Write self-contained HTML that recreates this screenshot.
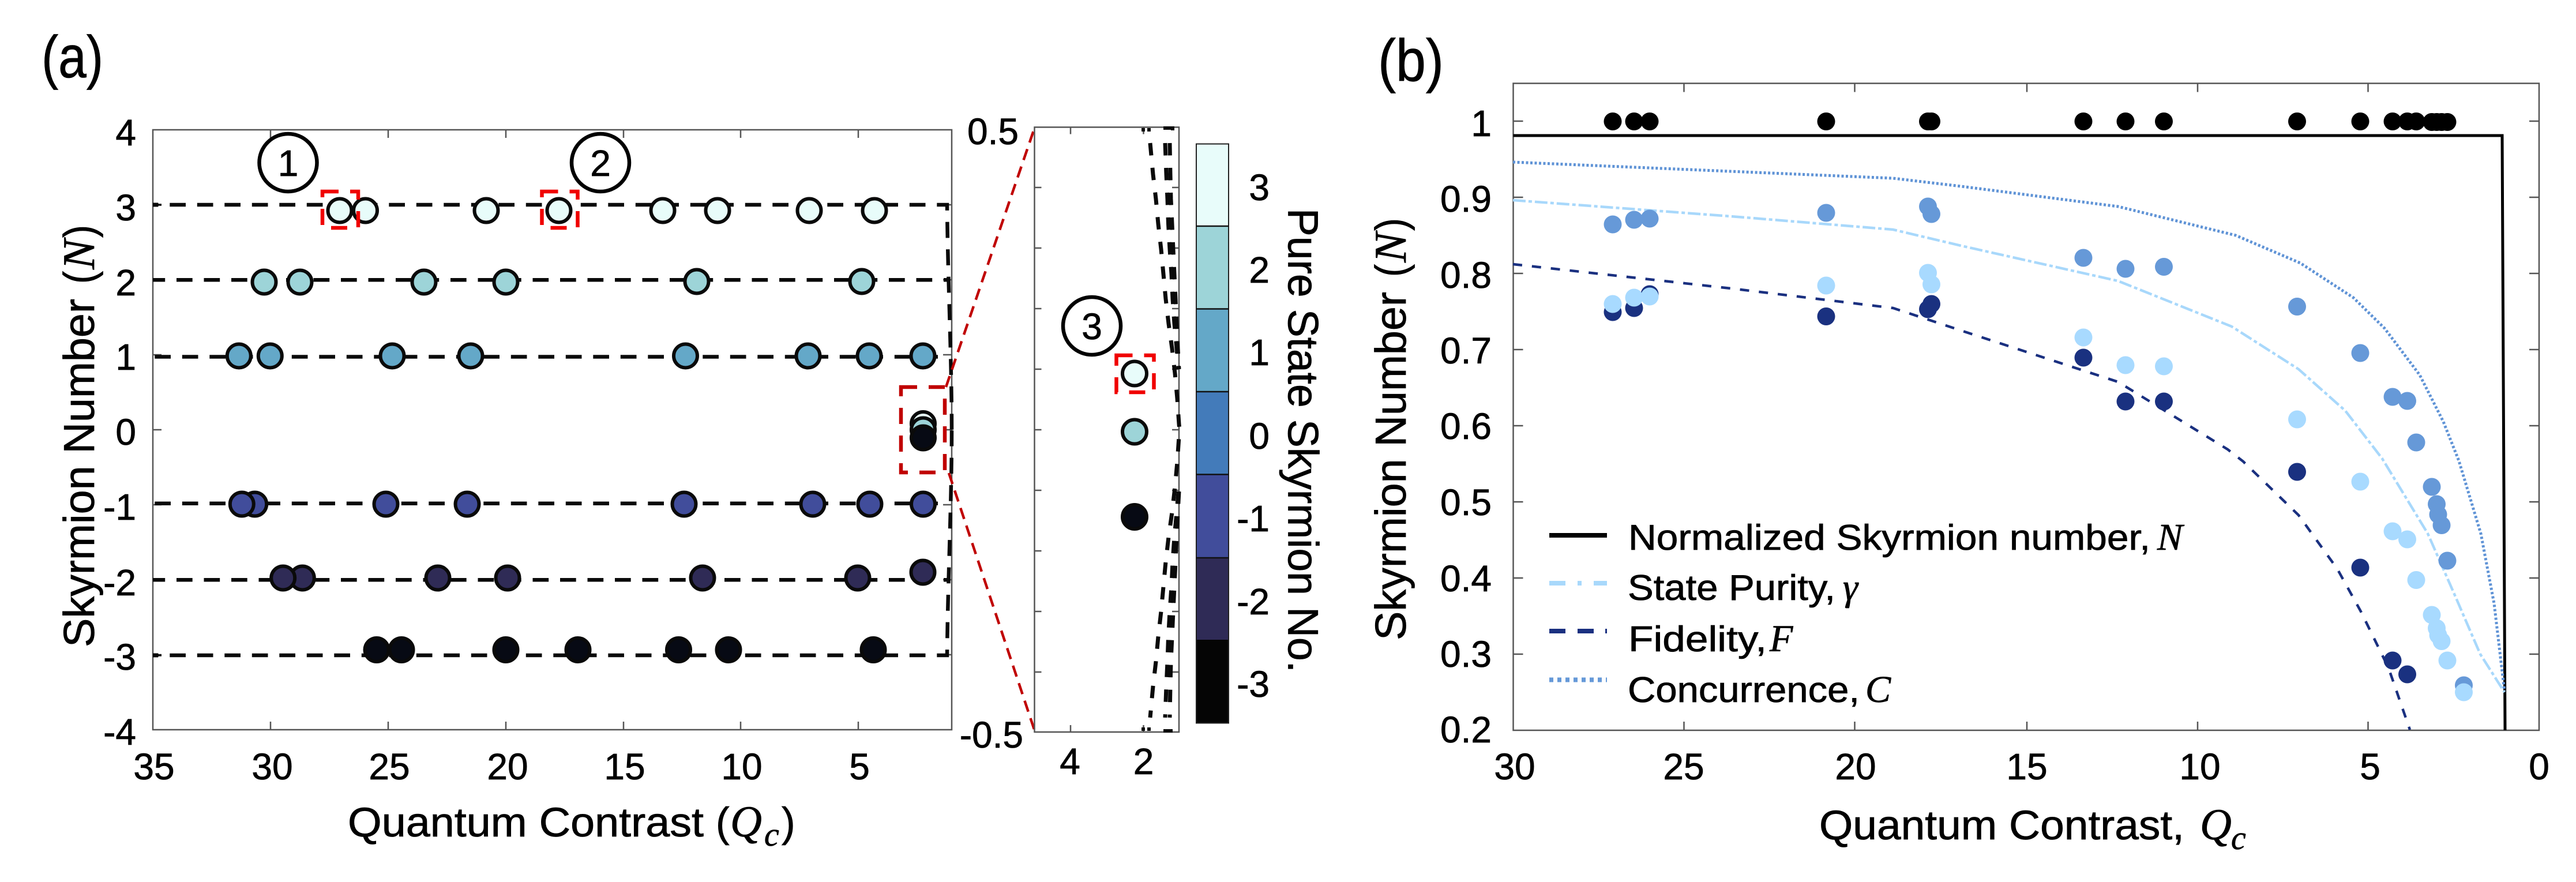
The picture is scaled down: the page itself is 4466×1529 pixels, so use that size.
<!DOCTYPE html>
<html><head><meta charset="utf-8"><style>
html,body{margin:0;padding:0;background:#fff;width:4466px;height:1529px;overflow:hidden}
svg{display:block}
text{font-family:"Liberation Sans",sans-serif;fill:#000;stroke:#000;stroke-width:.8px}
.t{font-size:64px}
.it{font-family:"Liberation Serif",serif;font-style:italic}
</style></head><body>
<svg width="4466" height="1529" viewBox="0 0 4466 1529" xmlns="http://www.w3.org/2000/svg">
<rect width="4466" height="1529" fill="#fff"/>

<!-- Panel labels -->
<text x="72" y="134" font-size="103" textLength="107" lengthAdjust="spacingAndGlyphs">(a)</text>
<text x="2389" y="140" font-size="103" textLength="114" lengthAdjust="spacingAndGlyphs">(b)</text>

<!-- (a) axes -->
<g stroke="#555" stroke-width="2.5" fill="none">
<rect x="265" y="225" width="1385" height="1040"/>
<path d="M469 225v14M673 225v14M877 225v14M1081 225v14M1284 225v14M1488 225v14M469 1265v-14M673 1265v-14M877 1265v-14M1081 1265v-14M1284 1265v-14M1488 1265v-14"/>
<path d="M265 355h15M265 485h15M265 615h15M265 745h15M265 875h15M265 1005h15M265 1135h15M1650 355h-15M1650 485h-15M1650 615h-15M1650 745h-15M1650 875h-15M1650 1005h-15M1650 1135h-15"/>
</g>

<!-- (a) dashed lines -->
<g stroke="#0a0a0a" stroke-width="6.500" fill="none" stroke-dasharray="27.7 19.8">
<path d="M265 355H1642C1643 480 1650 620 1650 745.500" stroke-dashoffset="-29.3"/>
<path d="M265 1136H1642C1643 1011 1650 871 1650 745.500" stroke-dashoffset="-29.3"/>
<path d="M265 485.300H1642" stroke-dashoffset="-41"/>
<path d="M265 618.500H1642" stroke-dashoffset="-3.3"/>
<path d="M265 872.700H1642" stroke-dashoffset="-3.3"/>
<path d="M265 1005.300H1642" stroke-dashoffset="-41"/>
</g>
<path d="M265 355h15M265 1136h15" stroke="#0a0a0a" stroke-width="3.500" fill="none"/>
<path d="M265 355h9M265 1136h9" stroke="#0a0a0a" stroke-width="7" fill="none"/>

<!-- (a) dots -->
<g stroke="#0a0a0a" stroke-width="6">
<g fill="#e8fcfa"><circle cx="633.500" cy="365" r="20.500"/><circle cx="589" cy="365" r="20.500"/><circle cx="843" cy="365" r="20.500"/><circle cx="969" cy="365" r="20.500"/><circle cx="1149" cy="365" r="20.500"/><circle cx="1244" cy="365" r="20.500"/><circle cx="1403" cy="365" r="20.500"/><circle cx="1516" cy="365" r="20.500"/></g>
<g fill="#9dd4d8"><circle cx="458" cy="489" r="20.500"/><circle cx="520" cy="489" r="20.500"/><circle cx="735" cy="489" r="20.500"/><circle cx="877" cy="489" r="20.500"/><circle cx="1208" cy="488" r="20.500"/><circle cx="1494" cy="488" r="20.500"/></g>
<g fill="#64a8c8"><circle cx="414.300" cy="617" r="20.500"/><circle cx="468.300" cy="617" r="20.500"/><circle cx="680" cy="617" r="20.500"/><circle cx="816" cy="617" r="20.500"/><circle cx="1188.500" cy="617" r="20.500"/><circle cx="1401" cy="617" r="20.500"/><circle cx="1507" cy="617" r="20.500"/><circle cx="1600" cy="617" r="20.500"/></g>
<g fill="#414d9b"><circle cx="441.700" cy="874" r="20.500"/><circle cx="419.300" cy="874" r="20.500"/><circle cx="669" cy="874" r="20.500"/><circle cx="810" cy="874" r="20.500"/><circle cx="1186" cy="874" r="20.500"/><circle cx="1409" cy="874" r="20.500"/><circle cx="1508" cy="874" r="20.500"/><circle cx="1600.500" cy="874" r="20.500"/></g>
<g fill="#2f2b56"><circle cx="524.300" cy="1002" r="20.500"/><circle cx="490.700" cy="1002" r="20.500"/><circle cx="759" cy="1002" r="20.500"/><circle cx="880" cy="1002" r="20.500"/><circle cx="1218" cy="1002" r="20.500"/><circle cx="1487" cy="1002" r="20.500"/><circle cx="1600" cy="992" r="20.500"/></g>
<g fill="#070a14"><circle cx="653" cy="1126.500" r="20.500"/><circle cx="696" cy="1126.500" r="20.500"/><circle cx="877" cy="1126.500" r="20.500"/><circle cx="1002" cy="1126.500" r="20.500"/><circle cx="1176.500" cy="1126.500" r="20.500"/><circle cx="1263" cy="1126.500" r="20.500"/><circle cx="1514" cy="1126.500" r="20.500"/></g>
<circle cx="1600.500" cy="734.500" r="20.500" fill="#e8fcfa"/>
<circle cx="1600.500" cy="745" r="20.500" fill="#9dd4d8"/>
<circle cx="1600.500" cy="759" r="20.500" fill="#070a14"/>
</g>

<!-- (a) red boxes -->
<g fill="none" stroke-width="6.500" stroke-dasharray="28 20">
<rect x="559" y="332" width="62" height="63" stroke="#f00000"/>
<rect x="939.500" y="332" width="62" height="63" stroke="#f00000"/>
<rect x="1562" y="671" width="76" height="148" stroke="#c00000"/>
</g>

<!-- circled numbers -->
<g fill="none" stroke="#000" stroke-width="6.500">
<circle cx="499.500" cy="282" r="50"/>
<circle cx="1041" cy="282" r="50"/>
<circle cx="1893" cy="565" r="50"/>
</g>
<text x="499.500" y="305" class="t" text-anchor="middle">1</text>
<text x="1041" y="305" class="t" text-anchor="middle">2</text>
<text x="1893" y="588" class="t" text-anchor="middle">3</text>

<!-- (a) tick labels -->
<g text-anchor="end">
<text x="236" y="252" class="t">4</text><text x="236" y="382" class="t">3</text><text x="236" y="512" class="t">2</text><text x="236" y="641" class="t">1</text><text x="236" y="771" class="t">0</text><text x="236" y="901" class="t">-1</text><text x="236" y="1032" class="t">-2</text><text x="236" y="1161" class="t">-3</text><text x="236" y="1291" class="t">-4</text>
</g>
<g text-anchor="middle">
<text x="267" y="1351" class="t">35</text><text x="472" y="1351" class="t">30</text><text x="675" y="1351" class="t">25</text><text x="880" y="1351" class="t">20</text><text x="1083" y="1351" class="t">15</text><text x="1286" y="1351" class="t">10</text><text x="1490" y="1351" class="t">5</text>
</g>
<text x="603" y="1450" font-size="71" textLength="617" lengthAdjust="spacingAndGlyphs">Quantum Contrast</text>
<text x="1241" y="1450" font-size="71">(</text>
<text x="1266" y="1450" font-size="76" class="it">Q</text>
<text x="1325" y="1466" font-size="58" class="it">c</text>
<text x="1355" y="1450" font-size="71">)</text>

<text transform="translate(163,1122) rotate(-90)" font-size="75" textLength="604" lengthAdjust="spacingAndGlyphs">Skyrmion Number</text>
<text transform="translate(163,492) rotate(-90)" font-size="75" textLength="22" lengthAdjust="spacingAndGlyphs">(</text>
<text transform="translate(163,467) rotate(-90)" font-size="78" class="it">N</text>
<text transform="translate(163,412) rotate(-90)" font-size="75" textLength="22" lengthAdjust="spacingAndGlyphs">)</text>

<!-- connectors -->
<g stroke="#c00000" stroke-width="4.500" fill="none" stroke-dasharray="20 12">
<path d="M1640 671L1793.500 222"/>
<path d="M1645 820L1793.500 1266"/>
</g>

<!-- inset -->
<g stroke="#555" stroke-width="2.500" fill="none">
<rect x="1793.500" y="220.500" width="250.500" height="1048.500"/>
<path d="M1856 220.500v12M1982.500 220.500v12M1856 1269v-12M1982.500 1269v-12"/>
<path d="M1793.500 325h12M1793.500 430h12M1793.500 535h12M1793.500 640h12M1793.500 745h12M1793.500 850h12M1793.500 955h12M1793.500 1060h12M1793.500 1165h12M2044 325h-12M2044 430h-12M2044 535h-12M2044 640h-12M2044 745h-12M2044 850h-12M2044 955h-12M2044 1060h-12M2044 1165h-12"/>
</g>
<g stroke="#0a0a0a" stroke-width="7" fill="none" stroke-dasharray="21.500 21.500">
<path d="M1994 248L1999 302L2004 345L2008 388L2013 432L2017 475L2021 518L2026 561L2032 604L2037 647L2041 691L2044 735L2045 746L2044 757L2041 801L2037 845L2032 888L2026 931L2021 974L2017 1017L2013 1060L2008 1104L2004 1147L1999 1190L1994 1244"/>
<path d="M2020 248L2022 302L2024 345L2025.500 388L2028 432L2031 475L2033 518L2036 561L2040 604L2043 640" />
<path d="M2028 248L2029 302L2030 345L2032 388L2034 432L2036 475L2038 518L2040 561L2042 604L2044 640" />
<path d="M2043 852L2040 888L2036 931L2033 974L2031 1017L2028 1060L2025.500 1104L2024 1147L2022 1190L2020 1244"/>
<path d="M2044 852L2042 888L2040 931L2038 974L2036 1017L2034 1060L2032 1104L2030 1147L2029 1190L2028 1244"/>
</g>
<g stroke="#0a0a0a" stroke-width="6" fill="none">
<path d="M1982 222v6M1992 222v6M2017 222h16v4M1982 1267v-6M1992 1267v-6M2017 1267h16"/>
</g>
<g stroke="#0a0a0a" stroke-width="6">
<circle cx="1967" cy="647.500" r="21" fill="#e8fcfa"/>
<circle cx="1967" cy="748.500" r="21" fill="#9dd4d8"/>
<circle cx="1967" cy="896" r="21" fill="#070a14"/>
</g>
<rect x="1935.500" y="616" width="65" height="64" fill="none" stroke="#f00000" stroke-width="6.500" stroke-dasharray="28 20"/>
<text x="1766" y="250" class="t" text-anchor="end">0.5</text>
<text x="1774" y="1296" class="t" text-anchor="end">-0.5</text>
<text x="1855" y="1342" class="t" text-anchor="middle">4</text>
<text x="1982.500" y="1342" class="t" text-anchor="middle">2</text>

<!-- colorbar -->
<rect x="2074" y="249.500" width="56" height="142.500" fill="#e8fcfa"/>
<rect x="2074" y="392" width="56" height="143.500" fill="#9dd4d8"/>
<rect x="2074" y="535.500" width="56" height="143.500" fill="#64a8c8"/>
<rect x="2074" y="679" width="56" height="143.500" fill="#437bba"/>
<rect x="2074" y="822.500" width="56" height="144.500" fill="#414d9b"/>
<rect x="2074" y="967" width="56" height="142" fill="#2f2b56"/>
<rect x="2074" y="1109" width="56" height="144.500" fill="#050505"/>
<rect x="2074" y="249.500" width="56" height="1004" fill="none" stroke="#222" stroke-width="2"/>
<path d="M2074 392h56M2074 535.500h56M2074 679h56M2074 822.500h56M2074 967h56" stroke="#111" stroke-width="2.500" fill="none"/>
<g text-anchor="end">
<text x="2201" y="347" class="t">3</text><text x="2201" y="490" class="t">2</text><text x="2201" y="633" class="t">1</text><text x="2201" y="778" class="t">0</text><text x="2201" y="921" class="t">-1</text><text x="2201" y="1065" class="t">-2</text><text x="2201" y="1208" class="t">-3</text>
</g>
<text transform="translate(2233.500,361) rotate(90)" font-size="74" textLength="805" lengthAdjust="spacingAndGlyphs">Pure State Skyrmion No.</text>

<!-- (b) axes -->
<g stroke="#555" stroke-width="2.500" fill="none">
<rect x="2623.500" y="144.500" width="1778.500" height="1121.500"/>
<path d="M2919.500 144.500v15M3215.500 144.500v15M3514 144.500v15M3810 144.500v15M4105.500 144.500v15M2919.500 1266v-15M3215.500 1266v-15M3514 1266v-15M3810 1266v-15M4105.500 1266v-15"/>
<path d="M2623.500 210h17M2623.500 342h17M2623.500 474h17M2623.500 606h17M2623.500 738h17M2623.500 870h17M2623.500 1002h17M2623.500 1134h17M4402 210h-17M4402 342h-17M4402 474h-17M4402 606h-17M4402 738h-17M4402 870h-17M4402 1002h-17M4402 1134h-17"/>
</g>

<!-- (b) curves -->
<path d="M2623.500 235H4338L4343 1266" fill="none" stroke="#000" stroke-width="5"/>
<path d="M2623 281L3282 309L3400 323L3672 358L3876 408L3988 456L4080 516L4134 569L4195 650L4236 731L4263 799L4301 925L4324 1046L4342 1198" fill="none" stroke="#5f93d6" stroke-width="5" stroke-dasharray="4 3.500"/>
<path d="M2623 347L3001 375L3282 398L3400 426L3672 487L3869 566L3985 640L4066 712L4130 795L4209 925L4256 1032L4300 1134L4342 1200" fill="none" stroke="#a8d8fb" stroke-width="4.500" stroke-dasharray="22 5 6 5"/>
<path d="M2623 458L3001 500L3282 534L3400 573L3672 662L3862 779L3889 800L3985 893L4052 986L4093 1060L4141 1158L4178 1265" fill="none" stroke="#1a3080" stroke-width="4.500" stroke-dasharray="16 17"/>

<!-- (b) dots -->
<g fill="#000">
<circle cx="2796" cy="210.500" r="15.500"/><circle cx="2833" cy="210.500" r="15.500"/><circle cx="2860" cy="210.500" r="15.500"/><circle cx="3166" cy="210.500" r="15.500"/><circle cx="3342.500" cy="210.500" r="15.500"/><circle cx="3348.500" cy="210.500" r="15.500"/><circle cx="3612" cy="210.500" r="15.500"/><circle cx="3685" cy="210.500" r="15.500"/><circle cx="3751.500" cy="210.500" r="15.500"/><circle cx="3982.500" cy="210.500" r="15.500"/><circle cx="4092" cy="210.500" r="15.500"/><circle cx="4148" cy="210.500" r="15.500"/><circle cx="4173.500" cy="210.500" r="15.500"/><circle cx="4189" cy="210.500" r="15.500"/><circle cx="4216" cy="211.500" r="15.500"/><circle cx="4224.500" cy="211.500" r="15.500"/><circle cx="4233" cy="211.500" r="15.500"/><circle cx="4243" cy="211.500" r="15.500"/>
</g>
<g fill="#1a3180">
<circle cx="2796" cy="541" r="15.500"/><circle cx="2833" cy="534" r="15.500"/><circle cx="2860" cy="510" r="15.500"/><circle cx="3166" cy="548.500" r="15.500"/><circle cx="3342.500" cy="536" r="15.500"/><circle cx="3348.500" cy="527" r="15.500"/><circle cx="3612" cy="620" r="15.500"/><circle cx="3685" cy="696" r="15.500"/><circle cx="3751.500" cy="696" r="15.500"/><circle cx="3982.500" cy="818" r="15.500"/><circle cx="4092" cy="984" r="15.500"/><circle cx="4148" cy="1145" r="15.500"/><circle cx="4173.500" cy="1169" r="15.500"/>
</g>
<g fill="#6699d8">
<circle cx="2796" cy="389" r="15.500"/><circle cx="2833" cy="381" r="15.500"/><circle cx="2860" cy="379" r="15.500"/><circle cx="3166" cy="369" r="15.500"/><circle cx="3342.500" cy="358" r="15.500"/><circle cx="3348.500" cy="371" r="15.500"/><circle cx="3612" cy="447" r="15.500"/><circle cx="3685" cy="466" r="15.500"/><circle cx="3751.500" cy="462.500" r="15.500"/><circle cx="3982.500" cy="531.500" r="15.500"/><circle cx="4092" cy="612" r="15.500"/><circle cx="4148" cy="688" r="15.500"/><circle cx="4173.500" cy="695" r="15.500"/><circle cx="4189" cy="767" r="15.500"/><circle cx="4216" cy="844" r="15.500"/><circle cx="4224.500" cy="874" r="15.500"/><circle cx="4227" cy="892" r="15.500"/><circle cx="4233" cy="910.500" r="15.500"/><circle cx="4243" cy="972" r="15.500"/><circle cx="4271.500" cy="1188" r="15.500"/>
</g>
<g fill="#a8daff">
<circle cx="2796" cy="527" r="15.500"/><circle cx="2833" cy="516" r="15.500"/><circle cx="2860" cy="514" r="15.500"/><circle cx="3166" cy="495" r="15.500"/><circle cx="3342.500" cy="473" r="15.500"/><circle cx="3348.500" cy="493" r="15.500"/><circle cx="3612" cy="585" r="15.500"/><circle cx="3685" cy="633" r="15.500"/><circle cx="3751.500" cy="635" r="15.500"/><circle cx="3982.500" cy="727" r="15.500"/><circle cx="4092" cy="835" r="15.500"/><circle cx="4148" cy="921" r="15.500"/><circle cx="4173.500" cy="935" r="15.500"/><circle cx="4189" cy="1005.500" r="15.500"/><circle cx="4216" cy="1066" r="15.500"/><circle cx="4224.500" cy="1089" r="15.500"/><circle cx="4227" cy="1101" r="15.500"/><circle cx="4233" cy="1111.500" r="15.500"/><circle cx="4243" cy="1145" r="15.500"/><circle cx="4271.500" cy="1200" r="15.500"/>
</g>

<!-- (b) tick labels -->
<g text-anchor="end">
<text x="2586" y="236" class="t">1</text><text x="2586" y="367" class="t">0.9</text><text x="2586" y="499" class="t">0.8</text><text x="2586" y="630" class="t">0.7</text><text x="2586" y="761" class="t">0.6</text><text x="2586" y="893" class="t">0.5</text><text x="2586" y="1025" class="t">0.4</text><text x="2586" y="1156" class="t">0.3</text><text x="2586" y="1287" class="t">0.2</text>
</g>
<g text-anchor="middle">
<text x="2626" y="1351" class="t">30</text><text x="2919" y="1351" class="t">25</text><text x="3217" y="1351" class="t">20</text><text x="3514" y="1351" class="t">15</text><text x="3814" y="1351" class="t">10</text><text x="4109" y="1351" class="t">5</text><text x="4402" y="1351" class="t">0</text>
</g>
<text x="3154" y="1455" font-size="71" textLength="633" lengthAdjust="spacingAndGlyphs">Quantum Contrast,</text>
<text x="3814" y="1455" font-size="76" class="it">Q</text>
<text x="3868" y="1472" font-size="58" class="it">c</text>

<text transform="translate(2437,1110) rotate(-90)" font-size="75" textLength="604" lengthAdjust="spacingAndGlyphs">Skyrmion Number</text>
<text transform="translate(2437,480) rotate(-90)" font-size="75" textLength="22" lengthAdjust="spacingAndGlyphs">(</text>
<text transform="translate(2437,455) rotate(-90)" font-size="78" class="it">N</text>
<text transform="translate(2437,400) rotate(-90)" font-size="75" textLength="22" lengthAdjust="spacingAndGlyphs">)</text>

<!-- legend -->
<rect x="2686" y="924" width="100" height="8" fill="#000"/>
<g fill="#a8d8fb"><rect x="2686" y="1007" width="28" height="8"/><rect x="2735" y="1007" width="7" height="8"/><rect x="2763" y="1007" width="23" height="8"/></g>
<g fill="#1a3080"><rect x="2686" y="1090" width="28" height="8"/><rect x="2735" y="1090" width="28" height="8"/><rect x="2783" y="1090" width="3" height="8"/></g>
<path d="M2686 1178.500H2786" stroke="#6699d8" stroke-width="8" stroke-dasharray="7 7" fill="none"/>
<text x="2823" y="953" font-size="62" textLength="905" lengthAdjust="spacingAndGlyphs">Normalized Skyrmion number,</text>
<text x="3740" y="953" font-size="66" class="it">N</text>
<text x="2822" y="1040" font-size="62" textLength="360" lengthAdjust="spacingAndGlyphs">State Purity,</text>
<text x="3195" y="1040" font-size="66" class="it">γ</text>
<text x="2823" y="1129" font-size="62" textLength="240" lengthAdjust="spacingAndGlyphs">Fidelity,</text>
<text x="3068" y="1129" font-size="66" class="it">F</text>
<text x="2822" y="1217" font-size="62" textLength="402" lengthAdjust="spacingAndGlyphs">Concurrence,</text>
<text x="3234" y="1217" font-size="66" class="it">C</text>
</svg>
</body></html>
